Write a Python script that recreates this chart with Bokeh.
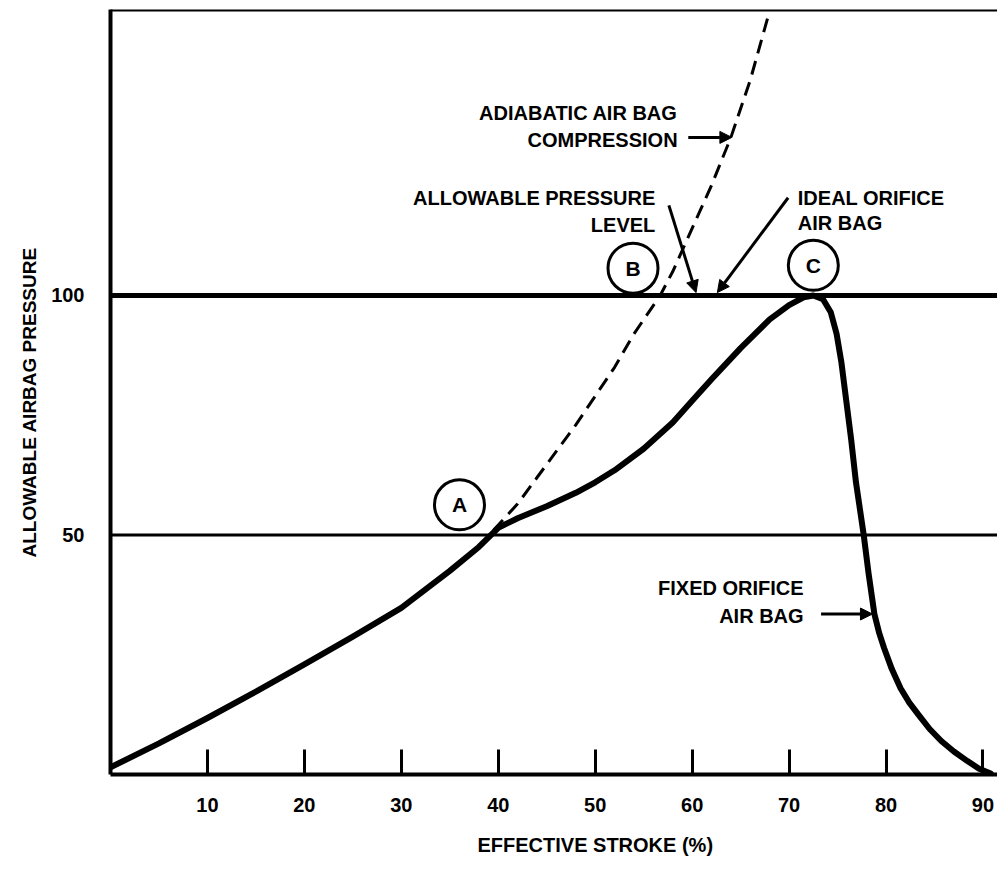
from bokeh.plotting import figure
from bokeh.models import Range1d, FixedTicker, Span, Arrow, NormalHead, ColumnDataSource, Title
from bokeh.core.properties import value
from bokeh.embed import file_html
from bokeh.resources import INLINE

# ---- data ----
stroke_fixed = [0, 5, 10, 15, 20, 25, 30, 35, 38, 40, 42, 45, 48, 50, 52, 55, 58, 60, 62, 65,
                68, 70, 71.5, 72.5, 73.5, 74.3, 74.9, 75.4, 75.9, 76.4, 76.9, 77.3, 77.7,
                78.2, 78.8, 79.3, 79.8, 80.6, 81.5, 82.4, 83.3, 84.5, 85.7, 87.0, 88.4,
                89.6, 90.8]
pressure_fixed = [1.5, 6.5, 11.8, 17.3, 23, 28.8, 34.8, 42.5, 47.5, 51.5, 53.5, 56, 58.8, 61,
                  63.5, 68, 73.5, 78, 82.5, 89, 95, 98, 99.6, 100, 99.2, 96.5, 92, 86, 78,
                  70, 61, 55.5, 50, 42, 33.5, 29.5, 26.4, 22, 18, 15, 12.6, 9.5, 7, 4.8,
                  2.8, 1.2, 0.2]

stroke_adiabatic = [39.5, 42, 44, 46, 48, 50, 52, 54, 56.7, 58, 60, 62, 64, 66, 67.8]
pressure_adiabatic = [51, 56.5, 62, 67.5, 73, 79, 85, 92, 100, 105, 114, 123, 133, 145, 158]

allowable_levels = [50, 100]
x_ticks = [10, 20, 30, 40, 50, 60, 70, 80, 90]
y_ticks = [50, 100]

point_names = ["A", "B", "C"]
point_x = [36.0, 53.9, 72.5]
point_y = [56.3, 105.7, 106.3]

x_max = 91.5
y_max = 159.7

FONT = "Liberation Sans"

p = figure(width=997, height=873,
           x_range=Range1d(0, x_max), y_range=Range1d(0, y_max),
           output_backend="svg", toolbar_location=None,
           min_border_left=110, min_border_right=0, min_border_top=9, min_border_bottom=99)

p.outline_line_color = None
p.xgrid.visible = False
p.ygrid.visible = False
p.background_fill_color = "white"
p.border_fill_color = "white"

# x axis
xa = p.xaxis[0]
xa.ticker = FixedTicker(ticks=x_ticks)
xa.minor_tick_line_color = None
xa.major_tick_in = 25
xa.major_tick_out = 0
xa.major_tick_line_width = 3
xa.major_tick_line_color = "black"
xa.axis_line_width = 4
xa.axis_line_color = "black"
xa.major_label_standoff = 23
xa.major_label_text_font = FONT
xa.major_label_text_font_style = "bold"
xa.major_label_text_font_size = "20px"
xa.major_label_text_color = "black"

# y axis
ya = p.yaxis[0]
ya.ticker = FixedTicker(ticks=y_ticks)
ya.minor_tick_line_color = None
ya.major_tick_in = 0
ya.major_tick_out = 0
ya.axis_line_width = 4
ya.axis_line_color = "black"
ya.major_label_standoff = 26
ya.major_label_text_font = FONT
ya.major_label_text_font_style = "bold"
ya.major_label_text_font_size = "20px"
ya.major_label_text_color = "black"

# axis titles (placed as titles so they can be offset like the reference)
p.add_layout(Title(text="EFFECTIVE STROKE (%)", align="left", offset=367, standoff=35,
                   text_font=FONT, text_font_style="bold", text_font_size="20px",
                   text_color="black"), "below")
p.add_layout(Title(text="ALLOWABLE AIRBAG PRESSURE", align="left", offset=217, standoff=17,
                   text_font=FONT, text_font_style="bold", text_font_size="19px",
                   text_color="black"), "left")

# top border
p.add_layout(Span(location=y_max, dimension="width", line_color="black", line_width=4))

# allowable pressure levels
for lvl, w in zip(allowable_levels, [3, 5]):
    p.add_layout(Span(location=lvl, dimension="width", line_color="black", line_width=w))

# curves
p.line(stroke_adiabatic, pressure_adiabatic, line_color="black", line_width=3,
       line_dash="14 8")
p.line(stroke_fixed, pressure_fixed, line_color="black", line_width=6,
       line_join="round", line_cap="round")

# point markers
src = ColumnDataSource(dict(x=point_x, y=point_y, t=point_names))
p.scatter("x", "y", source=src, marker="circle", size=50, fill_color="white",
          line_color="black", line_width=3)
p.text("x", "y", text="t", source=src, text_align="center", text_baseline="middle",
       text_font=value(FONT), text_font_style="bold", text_font_size="21px",
       text_color="black")

# annotation texts
ann_text = ["ADIABATIC AIR BAG", "COMPRESSION", "ALLOWABLE PRESSURE", "LEVEL",
            "FIXED ORIFICE", "AIR BAG"]
ann_x = [58.5, 58.5, 56.2, 56.2, 71.5, 71.5]
ann_y = [138.0, 132.5, 120.4, 114.8, 38.9, 33.1]
p.text(ann_x, ann_y, text=ann_text, text_align="right", text_baseline="middle",
       text_font=value(FONT), text_font_style="bold", text_font_size="20px",
       text_color="black")
p.text([70.9, 70.9], [120.4, 115.2], text=["IDEAL ORIFICE", "AIR BAG"],
       text_align="left", text_baseline="middle",
       text_font=value(FONT), text_font_style="bold", text_font_size="20px",
       text_color="black")

# arrows
arrows = [((59.6, 133.0), (64.1, 133.0)),
          ((57.6, 118.8), (60.4, 100.6)),
          ((69.9, 120.4), (62.6, 100.6)),
          ((73.3, 33.5), (78.6, 33.5))]
for (x0, y0), (x1, y1) in arrows:
    p.add_layout(Arrow(x_start=x0, y_start=y0, x_end=x1, y_end=y1, line_width=3,
                       line_color="black",
                       end=NormalHead(size=12, fill_color="black", line_color="black",
                                      line_width=1)))

open("out.html", "w").write(file_html(p, INLINE))
